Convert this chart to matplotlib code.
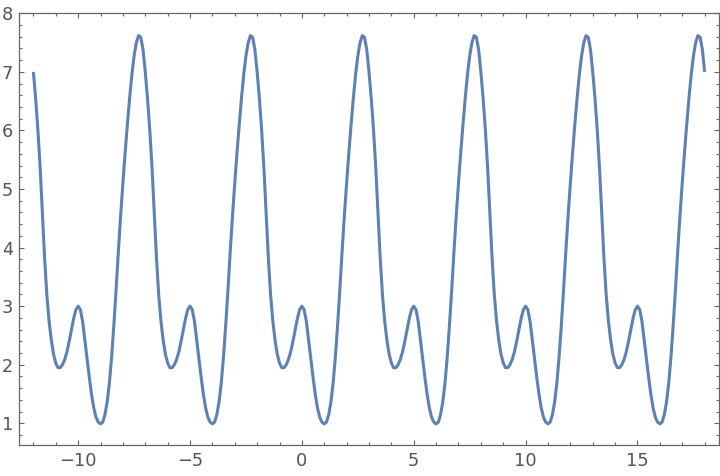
import numpy as np
import matplotlib
matplotlib.use("Agg")
import matplotlib.pyplot as plt
from matplotlib.ticker import MultipleLocator

# one period of the curve (x from -2 to 2.9, step 0.1)
x_period = [-2.0, -1.9, -1.8, -1.7, -1.6, -1.5, -1.4, -1.3, -1.2, -1.1,
            -1.0, -0.9, -0.8, -0.7, -0.6, -0.5, -0.4, -0.3, -0.2, -0.1,
            0.0, 0.1, 0.2, 0.3, 0.4, 0.5, 0.6, 0.7, 0.8, 0.9,
            1.0, 1.1, 1.2, 1.3, 1.4, 1.5, 1.6, 1.7, 1.8, 1.9,
            2.0, 2.1, 2.2, 2.3, 2.4, 2.5, 2.6, 2.7, 2.8, 2.9]
y_period = [7.00, 6.55, 6.02, 5.38, 4.60, 3.83, 3.20, 2.75, 2.42, 2.18,
            2.03, 1.95, 1.95, 2.00, 2.09, 2.22, 2.40, 2.60, 2.79, 2.94,
            3.00, 2.94, 2.74, 2.42, 2.09, 1.78, 1.49, 1.26, 1.10, 1.02,
            0.99, 1.02, 1.15, 1.37, 1.70, 2.15, 2.70, 3.30, 3.95, 4.55,
            5.10, 5.62, 6.10, 6.55, 6.95, 7.27, 7.50, 7.62, 7.59, 7.38]
period_shifts = [-10, -5, 0, 5, 10, 15]
x_end, y_end = 18.0, 7.0

xs = np.concatenate([np.array(x_period) + s for s in period_shifts] + [[x_end]])
ys = np.concatenate([np.array(y_period) for s in period_shifts] + [[y_end]])

gray = "#666666"
fig = plt.figure(figsize=(7.2, 4.76), dpi=100)
ax = fig.add_axes([0.0268, 0.0658, 0.9714, 0.9062])
ax.plot(xs, ys, color="#5E81B5", lw=2.2, solid_capstyle="butt",
        solid_joinstyle="round")

ax.set_xlim(-12.63, 18.63)
ax.set_ylim(0.635, 8.0)
ax.xaxis.set_major_locator(MultipleLocator(5))
ax.xaxis.set_minor_locator(MultipleLocator(1))
ax.yaxis.set_major_locator(MultipleLocator(1))
ax.yaxis.set_minor_locator(MultipleLocator(0.2))
ax.tick_params(which="both", direction="in", top=True, right=True, color=gray,
               labelcolor="#555555", labelsize=12.8, width=0.8)
ax.tick_params(which="major", length=3.8)
ax.tick_params(which="minor", length=2.0)
ax.tick_params(axis="x", pad=5)
ax.tick_params(axis="y", pad=4.5)
for sp in ax.spines.values():
    sp.set_color(gray)
    sp.set_linewidth(0.9)

fig.savefig("out.png", dpi=100)
